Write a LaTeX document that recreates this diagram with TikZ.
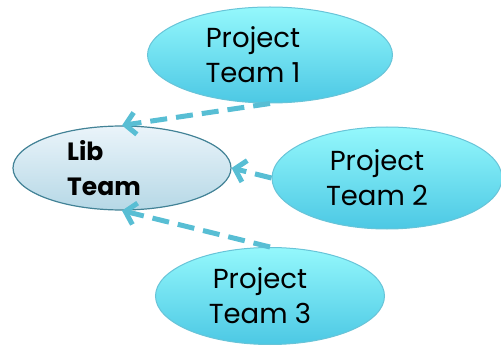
\documentclass[tikz,border=0pt]{standalone}
\usepackage{fontspec}
\setmainfont{Poppins}
\usetikzlibrary{shapes.geometric,arrows.meta}

\definecolor{arwblue}{RGB}{88,190,212}
\definecolor{projtop}{RGB}{148,248,252}
\definecolor{projbot}{RGB}{76,200,228}
\definecolor{projline}{RGB}{104,196,216}
\definecolor{libtop}{RGB}{234,244,250}
\definecolor{libbot}{RGB}{182,216,230}
\definecolor{libline}{RGB}{66,130,150}

\begin{document}
\begin{tikzpicture}[
  x=1pt, y=1pt,
  projnode/.style={ellipse, draw=projline, line width=1pt, top color=projtop, bottom color=projbot, inner sep=0pt},
  libnode/.style={ellipse, draw=libline, line width=1.2pt, top color=libtop, bottom color=libbot, inner sep=0pt},
  txt/.style={align=center, font=\fontsize{27.5}{35}\selectfont},
  arw/.style={-{Straight Barb[length=10pt, width=22pt]}, line width=5pt, draw=arwblue, dash pattern=on 17pt off 9pt}
  ]

\useasboundingbox (0,0) rectangle (501,346);

\node [libnode, minimum width=218pt, minimum height=84pt,
  label={[xshift=-18pt, align=left, font=\bfseries\fontsize{25}{35}\selectfont]center:Lib\\Team}] (lib) at (122,178) {};
\node [projnode, minimum width=245pt, minimum height=96pt,
  label={[txt, xshift=-17pt]center:Project\\Team 1}] (pt1) at (270,291) {};
\node [projnode, minimum width=230pt, minimum height=102pt,
  label={[txt, xshift=-10pt]center:Project\\Team 2}] (pt2) at (387,168) {};
\node [projnode, minimum width=229pt, minimum height=97pt,
  label={[txt, xshift=-10pt]center:Project\\Team 3}] (pt3) at (270,50) {};

\draw [arw] (pt1.south) -- (lib.north);
\draw [arw] (pt2.west) -- (lib.east);
\draw [arw] (pt3.north) -- (lib.south);

\end{tikzpicture}
\end{document}
